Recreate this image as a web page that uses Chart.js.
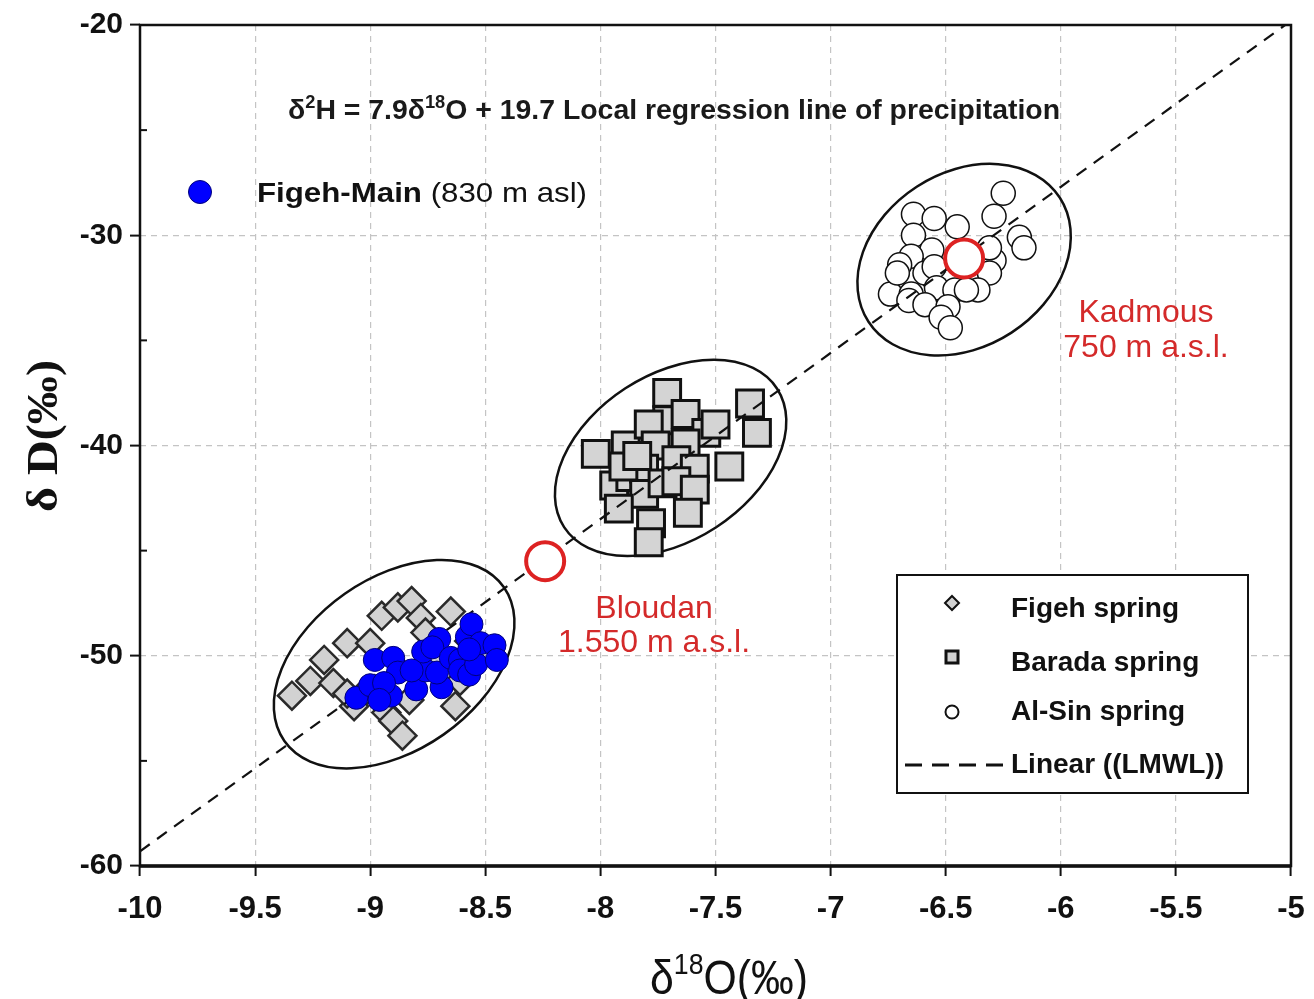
<!DOCTYPE html>
<html>
<head>
<meta charset="utf-8">
<script src="https://cdn.jsdelivr.net/npm/chart.js@4.4.1/dist/chart.umd.min.js"></script>
<style>
  html, body { margin: 0; padding: 0; background: #fff; }
  #wrap { width: 1314px; height: 999px; }
</style>
</head>
<body>
<div id="wrap"><canvas id="isoChart" width="1314" height="999"></canvas></div>
<script>
// tick labels
const xTickLabels = ['-10', '-9.5', '-9', '-8.5', '-8', '-7.5', '-7', '-6.5', '-6', '-5.5', '-5'];
const yTickLabels = ['-60', '-50', '-40', '-30', '-20'];

// [δ18O, δD]
const figehSpring = [
  [-9.34, -51.9], [-9.26, -51.2], [-9.20, -50.2], [-9.10, -49.4], [-9.16, -51.3],
  [-8.95, -48.1], [-8.88, -47.7], [-8.82, -47.4], [-8.78, -48.2], [-8.65, -47.9],
  [-9.00, -49.4], [-9.03, -51.8], [-9.07, -52.4], [-8.93, -52.7], [-8.90, -53.1],
  [-8.86, -53.8], [-8.63, -52.4], [-8.76, -48.9], [-8.61, -51.2], [-9.10, -51.8],
  [-8.98, -51.6], [-8.83, -52.1], [-8.57, -49.3], [-8.70, -50.0]
];
const figehMain = [
  [-9.06, -52.0], [-9.00, -51.4], [-8.98, -50.2], [-8.90, -50.1], [-8.88, -50.8],
  [-8.91, -51.9], [-8.80, -51.6], [-8.76, -50.7], [-8.77, -49.8], [-8.70, -49.2],
  [-8.73, -49.6], [-8.69, -51.5], [-8.71, -50.8], [-8.65, -50.1], [-8.61, -50.2],
  [-8.61, -50.7], [-8.57, -50.9], [-8.58, -49.1], [-8.56, -48.5], [-8.54, -50.4],
  [-8.52, -49.4], [-8.46, -49.5], [-8.45, -50.2], [-8.94, -51.3], [-8.82, -50.7],
  [-8.57, -49.7], [-8.96, -52.1]
];
const baradaSpring = [
  [-8.02, -40.4], [-7.89, -40.0], [-7.71, -37.5], [-7.71, -38.8], [-7.79, -39.0],
  [-7.76, -40.0], [-7.63, -38.5], [-7.54, -39.4], [-7.50, -39.0], [-7.63, -39.9],
  [-7.67, -40.7], [-7.59, -41.1], [-7.44, -41.0], [-7.35, -38.0], [-7.32, -39.4],
  [-7.94, -41.9], [-7.87, -41.5], [-7.81, -41.1], [-7.81, -42.3], [-7.92, -43.0],
  [-7.73, -41.8], [-7.67, -41.7], [-7.59, -42.1], [-7.62, -43.2], [-7.78, -43.7],
  [-7.79, -44.6], [-7.90, -41.0], [-7.84, -40.5]
];
const alSinSpring = [
  [-6.25, -28.0], [-6.64, -29.0], [-6.55, -29.2], [-6.45, -29.6], [-6.29, -29.1],
  [-6.64, -30.0], [-6.56, -30.7], [-6.65, -31.0], [-6.18, -30.1], [-6.16, -30.6],
  [-6.29, -31.2], [-6.70, -31.4], [-6.59, -31.8], [-6.55, -31.5], [-6.31, -31.8],
  [-6.36, -32.6], [-6.74, -32.8], [-6.65, -32.8], [-6.66, -33.1], [-6.54, -32.5],
  [-6.46, -32.6], [-6.41, -32.6], [-6.59, -33.3], [-6.49, -33.4], [-6.52, -33.9],
  [-6.48, -34.4], [-6.31, -30.6], [-6.71, -31.8]
];
// precipitation stations: Bloudan, Kadmous
const rainStations = [[-8.24, -45.5], [-6.42, -31.1]];
// local meteoric water line end points
const lmwlO18 = [-10, -5];
const lmwlD = [-59.3, -19.8];

const toPts = arr => arr.map(p => ({ x: p[0], y: p[1] }));

// draw a run of text pieces (for superscripts), optionally squeezed to a width
function drawRich(ctx, parts, x, y, targetWidth) {
  let w = 0;
  parts.forEach(p => { ctx.font = p.font; w += ctx.measureText(p.text).width; });
  const sx = targetWidth ? targetWidth / w : 1;
  ctx.save();
  ctx.translate(x, y);
  ctx.scale(sx, 1);
  ctx.textAlign = 'left';
  ctx.textBaseline = 'alphabetic';
  let cx = 0;
  parts.forEach(p => {
    ctx.font = p.font;
    ctx.fillText(p.text, cx, p.dy || 0);
    cx += ctx.measureText(p.text).width;
  });
  ctx.restore();
}

const sans = '"Liberation Sans", Arial, sans-serif';
const serif = '"Liberation Serif", "Times New Roman", serif';

// ellipses round each group (centre in data units, semi axes in px)
const groupRings = [
  { cx: -8.896, cy: -50.40, a: 134, b: 86, rot: -35 },
  { cx: -7.695, cy: -40.59, a: 127, b: 83, rot: -33 },
  { cx: -6.42, cy: -31.16, a: 114, b: 87, rot: -33 }
];

const ringsPlugin = {
  id: 'rings',
  beforeDatasetsDraw(chart) {
    const { ctx, scales: { x, y } } = chart;
    ctx.save();
    ctx.strokeStyle = '#111';
    ctx.lineWidth = 2.5;
    groupRings.forEach(r => {
      ctx.beginPath();
      ctx.ellipse(x.getPixelForValue(r.cx), y.getPixelForValue(r.cy), r.a, r.b, r.rot * Math.PI / 180, 0, Math.PI * 2);
      ctx.stroke();
    });
    ctx.restore();
  }
};

const decorPlugin = {
  id: 'decor',
  afterDraw(chart) {
    const { ctx, chartArea: ca, scales: { y } } = chart;
    ctx.save();

    // frame
    ctx.strokeStyle = '#111';
    ctx.lineWidth = 2.5;
    ctx.setLineDash([]);
    ctx.strokeRect(ca.left, ca.top, ca.right - ca.left, ca.bottom - ca.top);
    ctx.lineWidth = 3.5;
    ctx.beginPath();
    ctx.moveTo(ca.left, ca.bottom);
    ctx.lineTo(ca.right, ca.bottom);
    ctx.stroke();

    // minor y ticks pointing inward
    ctx.lineWidth = 2;
    [-55, -45, -35, -25].forEach(v => {
      const py = y.getPixelForValue(v);
      ctx.beginPath();
      ctx.moveTo(ca.left, py);
      ctx.lineTo(ca.left + 7, py);
      ctx.stroke();
    });

    // equation
    ctx.fillStyle = '#1a1a1a';
    const eqF = 'bold 28px ' + sans, eqS = 'bold 18px ' + sans;
    drawRich(ctx, [
      { text: 'δ', font: eqF }, { text: '2', font: eqS, dy: -11 },
      { text: 'H = 7.9δ', font: eqF }, { text: '18', font: eqS, dy: -11 },
      { text: 'O + 19.7 Local regression line of precipitation', font: eqF }
    ], 288, 119, 772);

    // Figeh-Main key
    ctx.fillStyle = '#0000ff';
    ctx.strokeStyle = '#00007a';
    ctx.lineWidth = 1;
    ctx.beginPath();
    ctx.arc(200, 192, 11.5, 0, Math.PI * 2);
    ctx.fill();
    ctx.stroke();
    ctx.fillStyle = '#111';
    drawRich(ctx, [
      { text: 'Figeh-Main', font: 'bold 28px ' + sans },
      { text: ' (830 m asl)', font: '28px ' + sans }
    ], 257, 202, 330);

    // station labels
    ctx.fillStyle = '#d42a2a';
    ctx.font = '32px ' + sans;
    ctx.textAlign = 'center';
    ctx.textBaseline = 'alphabetic';
    ctx.fillText('Kadmous', 1146, 322);
    ctx.fillText('750 m a.s.l.', 1146, 357);
    ctx.fillText('Bloudan', 654, 618);
    ctx.fillText('1.550 m a.s.l.', 654, 652);

    // legend box
    ctx.strokeStyle = '#111';
    ctx.lineWidth = 2;
    ctx.fillStyle = '#fff';
    ctx.fillRect(897, 575, 351, 218);
    ctx.strokeRect(897, 575, 351, 218);
    // diamond
    ctx.fillStyle = '#d2d2d2';
    ctx.lineWidth = 2;
    ctx.beginPath();
    ctx.moveTo(952, 596); ctx.lineTo(959, 603); ctx.lineTo(952, 610); ctx.lineTo(945, 603);
    ctx.closePath();
    ctx.fill(); ctx.stroke();
    // square
    ctx.lineWidth = 3;
    ctx.fillRect(946, 651, 12, 12);
    ctx.strokeRect(946, 651, 12, 12);
    // circle
    ctx.fillStyle = '#fff';
    ctx.lineWidth = 2;
    ctx.beginPath();
    ctx.arc(952, 712, 6.5, 0, Math.PI * 2);
    ctx.fill(); ctx.stroke();
    // dashed line
    ctx.lineWidth = 3;
    ctx.setLineDash([17, 10]);
    ctx.beginPath();
    ctx.moveTo(905, 765); ctx.lineTo(1003, 765);
    ctx.stroke();
    ctx.setLineDash([]);
    ctx.fillStyle = '#111';
    ctx.font = 'bold 28px ' + sans;
    ctx.textAlign = 'left';
    ctx.fillText('Figeh spring', 1011, 617);
    ctx.fillText('Barada spring', 1011, 671);
    ctx.fillText('Al-Sin spring', 1011, 720);
    ctx.fillText('Linear ((LMWL))', 1011, 773);

    // axis titles
    drawRich(ctx, [
      { text: 'δ', font: '48px ' + sans },
      { text: '18', font: '30px ' + sans, dy: -20 },
      { text: 'O(‰)', font: '48px ' + sans }
    ], 650, 994, 158);

    ctx.save();
    ctx.translate(57, 512);
    ctx.rotate(-Math.PI / 2);
    drawRich(ctx, [{ text: 'δ D(‰)', font: 'bold 44px ' + serif }], 0, 0, 152);
    ctx.restore();

    ctx.restore();
  }
};

const gridGray = '#c4c4c4';

new Chart(document.getElementById('isoChart'), {
  type: 'scatter',
  data: {
    datasets: [
      {
        label: 'Stations',
        data: toPts(rainStations),
        pointStyle: 'circle',
        pointRadius: 19,
        pointBorderWidth: 4,
        borderColor: '#dd2222',
        backgroundColor: '#ffffff',
        order: 0
      },
      {
        label: 'Figeh-Main',
        data: toPts(figehMain),
        pointStyle: 'circle',
        pointRadius: 11.5,
        pointBorderWidth: 1,
        borderColor: '#00007a',
        backgroundColor: '#0000ff',
        order: 1
      },
      {
        type: 'line',
        label: 'Linear ((LMWL))',
        data: lmwlO18.map((v, i) => ({ x: v, y: lmwlD[i] })),
        borderColor: '#111',
        borderWidth: 2.2,
        borderDash: [12, 9],
        pointRadius: 0,
        fill: false,
        order: 2
      },
      {
        label: 'Al-Sin spring',
        data: toPts(alSinSpring),
        pointStyle: 'circle',
        pointRadius: 12,
        pointBorderWidth: 1.5,
        borderColor: '#111',
        backgroundColor: '#ffffff',
        order: 3
      },
      {
        label: 'Barada spring',
        data: toPts(baradaSpring),
        pointStyle: 'rect',
        pointRadius: 19,
        pointBorderWidth: 3,
        borderColor: '#111',
        backgroundColor: '#d4d4d4',
        order: 4
      },
      {
        label: 'Figeh spring',
        data: toPts(figehSpring),
        pointStyle: 'rectRot',
        pointRadius: 14,
        pointBorderWidth: 2.5,
        borderColor: '#2a2a2a',
        backgroundColor: '#d2d2d2',
        order: 5
      }
    ]
  },
  options: {
    responsive: false,
    devicePixelRatio: 1,
    animation: false,
    layout: { padding: { left: 0, right: 15, top: 25, bottom: 0 } },
    plugins: { legend: { display: false }, tooltip: { enabled: false } },
    scales: {
      x: {
        type: 'linear',
        min: -10,
        max: -5,
        afterFit(s) { s.height = 133; s.paddingLeft = 0; s.paddingRight = 0; },
        border: { display: false, dash: [6, 5] },
        grid: {
          color: c => (c.tick && c.tick.value > -10 && c.tick.value < -5) ? gridGray : 'transparent',
          lineWidth: 1.2,
          tickLength: 10,
          tickColor: '#111',
          tickWidth: 2
        },
        ticks: {
          stepSize: 0.5,
          autoSkip: false,
          maxRotation: 0,
          padding: 15,
          color: '#111',
          font: { family: sans, size: 31, weight: 'bold' },
          callback: (v, i) => xTickLabels[i]
        }
      },
      y: {
        type: 'linear',
        min: -60,
        max: -20,
        afterFit(s) { s.width = 140; s.paddingTop = 0; s.paddingBottom = 0; },
        border: { display: false, dash: [6, 5] },
        grid: {
          color: c => (c.tick && c.tick.value % 10 === 0 && c.tick.value > -60 && c.tick.value < -20) ? gridGray : 'transparent',
          lineWidth: 1.2,
          tickLength: 10,
          tickColor: c => (c.tick && c.tick.value % 10 === 0) ? '#111' : 'transparent',
          tickWidth: 2
        },
        ticks: {
          stepSize: 5,
          autoSkip: false,
          padding: 7,
          color: '#111',
          font: { family: sans, size: 30, weight: 'bold' },
          callback: v => yTickLabels.includes(String(v)) ? String(v) : ''
        }
      }
    }
  },
  plugins: [ringsPlugin, decorPlugin]
});
</script>
</body>
</html>
